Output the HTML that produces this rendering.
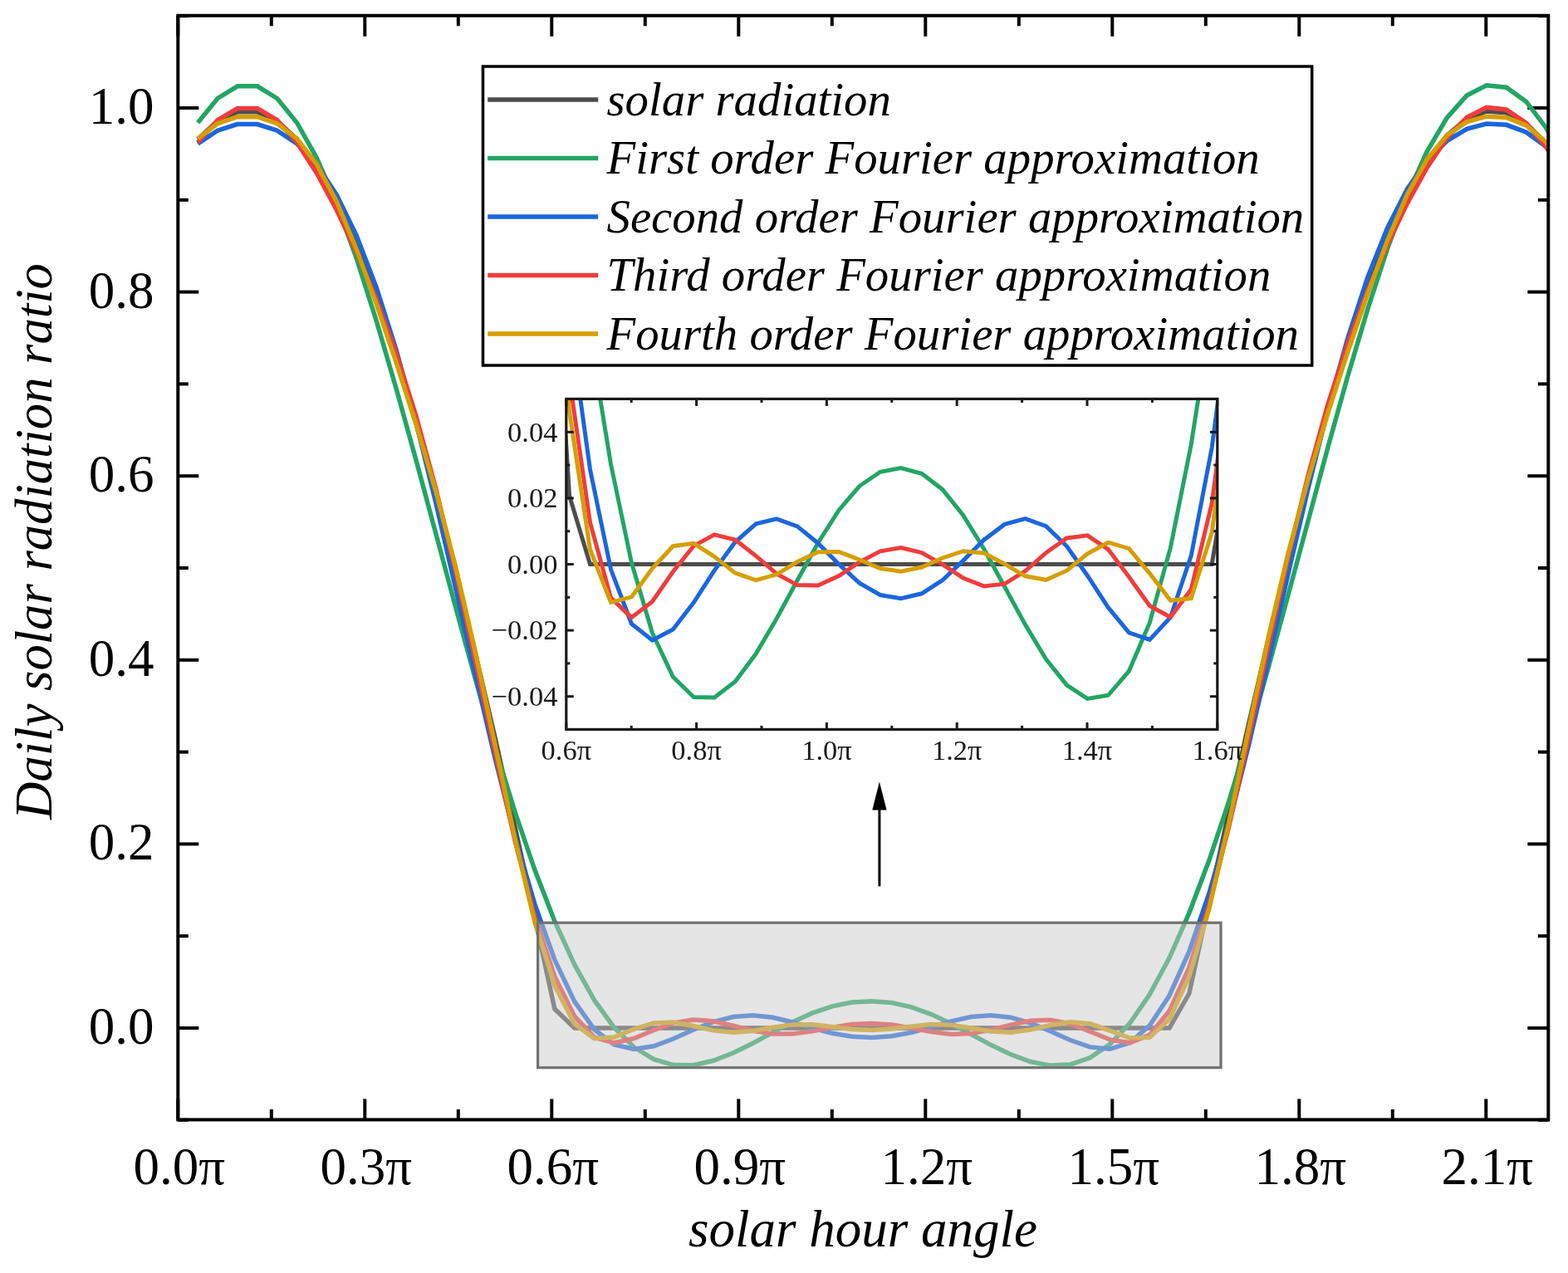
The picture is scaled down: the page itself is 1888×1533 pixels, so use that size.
<!DOCTYPE html>
<html><head><meta charset="utf-8"><title>Daily solar radiation ratio</title>
<style>html,body{margin:0;padding:0;background:#fff;} svg{display:block;}</style>
</head><body>
<svg width="1888" height="1533" viewBox="0 0 1888 1533">
<defs>
<clipPath id="cm"><rect x="214.3" y="18.8" width="1650.0" height="1329.6000000000001"/></clipPath>
<clipPath id="ci"><rect x="681.8" y="480.4" width="784.0" height="398.0"/></clipPath>
</defs>
<rect x="0" y="0" width="1888" height="1533" fill="#fff"/>
<line x1="214.3" y1="1348.4" x2="214.3" y2="1323.4" stroke="#000" stroke-width="4"/>
<line x1="214.3" y1="18.8" x2="214.3" y2="43.8" stroke="#000" stroke-width="4"/>
<line x1="326.8" y1="1348.4" x2="326.8" y2="1335.9" stroke="#000" stroke-width="4"/>
<line x1="326.8" y1="18.8" x2="326.8" y2="31.3" stroke="#000" stroke-width="4"/>
<line x1="439.3" y1="1348.4" x2="439.3" y2="1323.4" stroke="#000" stroke-width="4"/>
<line x1="439.3" y1="18.8" x2="439.3" y2="43.8" stroke="#000" stroke-width="4"/>
<line x1="551.8" y1="1348.4" x2="551.8" y2="1335.9" stroke="#000" stroke-width="4"/>
<line x1="551.8" y1="18.8" x2="551.8" y2="31.3" stroke="#000" stroke-width="4"/>
<line x1="664.3" y1="1348.4" x2="664.3" y2="1323.4" stroke="#000" stroke-width="4"/>
<line x1="664.3" y1="18.8" x2="664.3" y2="43.8" stroke="#000" stroke-width="4"/>
<line x1="776.8" y1="1348.4" x2="776.8" y2="1335.9" stroke="#000" stroke-width="4"/>
<line x1="776.8" y1="18.8" x2="776.8" y2="31.3" stroke="#000" stroke-width="4"/>
<line x1="889.3" y1="1348.4" x2="889.3" y2="1323.4" stroke="#000" stroke-width="4"/>
<line x1="889.3" y1="18.8" x2="889.3" y2="43.8" stroke="#000" stroke-width="4"/>
<line x1="1001.8" y1="1348.4" x2="1001.8" y2="1335.9" stroke="#000" stroke-width="4"/>
<line x1="1001.8" y1="18.8" x2="1001.8" y2="31.3" stroke="#000" stroke-width="4"/>
<line x1="1114.3" y1="1348.4" x2="1114.3" y2="1323.4" stroke="#000" stroke-width="4"/>
<line x1="1114.3" y1="18.8" x2="1114.3" y2="43.8" stroke="#000" stroke-width="4"/>
<line x1="1226.8" y1="1348.4" x2="1226.8" y2="1335.9" stroke="#000" stroke-width="4"/>
<line x1="1226.8" y1="18.8" x2="1226.8" y2="31.3" stroke="#000" stroke-width="4"/>
<line x1="1339.3" y1="1348.4" x2="1339.3" y2="1323.4" stroke="#000" stroke-width="4"/>
<line x1="1339.3" y1="18.8" x2="1339.3" y2="43.8" stroke="#000" stroke-width="4"/>
<line x1="1451.8" y1="1348.4" x2="1451.8" y2="1335.9" stroke="#000" stroke-width="4"/>
<line x1="1451.8" y1="18.8" x2="1451.8" y2="31.3" stroke="#000" stroke-width="4"/>
<line x1="1564.3" y1="1348.4" x2="1564.3" y2="1323.4" stroke="#000" stroke-width="4"/>
<line x1="1564.3" y1="18.8" x2="1564.3" y2="43.8" stroke="#000" stroke-width="4"/>
<line x1="1676.8" y1="1348.4" x2="1676.8" y2="1335.9" stroke="#000" stroke-width="4"/>
<line x1="1676.8" y1="18.8" x2="1676.8" y2="31.3" stroke="#000" stroke-width="4"/>
<line x1="1789.3" y1="1348.4" x2="1789.3" y2="1323.4" stroke="#000" stroke-width="4"/>
<line x1="1789.3" y1="18.8" x2="1789.3" y2="43.8" stroke="#000" stroke-width="4"/>
<line x1="214.3" y1="1348.8" x2="226.8" y2="1348.8" stroke="#000" stroke-width="4"/>
<line x1="1864.3" y1="1348.8" x2="1851.8" y2="1348.8" stroke="#000" stroke-width="4"/>
<line x1="214.3" y1="1238.0" x2="239.3" y2="1238.0" stroke="#000" stroke-width="4"/>
<line x1="1864.3" y1="1238.0" x2="1839.3" y2="1238.0" stroke="#000" stroke-width="4"/>
<line x1="214.3" y1="1127.2" x2="226.8" y2="1127.2" stroke="#000" stroke-width="4"/>
<line x1="1864.3" y1="1127.2" x2="1851.8" y2="1127.2" stroke="#000" stroke-width="4"/>
<line x1="214.3" y1="1016.4" x2="239.3" y2="1016.4" stroke="#000" stroke-width="4"/>
<line x1="1864.3" y1="1016.4" x2="1839.3" y2="1016.4" stroke="#000" stroke-width="4"/>
<line x1="214.3" y1="905.6" x2="226.8" y2="905.6" stroke="#000" stroke-width="4"/>
<line x1="1864.3" y1="905.6" x2="1851.8" y2="905.6" stroke="#000" stroke-width="4"/>
<line x1="214.3" y1="794.8" x2="239.3" y2="794.8" stroke="#000" stroke-width="4"/>
<line x1="1864.3" y1="794.8" x2="1839.3" y2="794.8" stroke="#000" stroke-width="4"/>
<line x1="214.3" y1="684.0" x2="226.8" y2="684.0" stroke="#000" stroke-width="4"/>
<line x1="1864.3" y1="684.0" x2="1851.8" y2="684.0" stroke="#000" stroke-width="4"/>
<line x1="214.3" y1="573.2" x2="239.3" y2="573.2" stroke="#000" stroke-width="4"/>
<line x1="1864.3" y1="573.2" x2="1839.3" y2="573.2" stroke="#000" stroke-width="4"/>
<line x1="214.3" y1="462.4" x2="226.8" y2="462.4" stroke="#000" stroke-width="4"/>
<line x1="1864.3" y1="462.4" x2="1851.8" y2="462.4" stroke="#000" stroke-width="4"/>
<line x1="214.3" y1="351.6" x2="239.3" y2="351.6" stroke="#000" stroke-width="4"/>
<line x1="1864.3" y1="351.6" x2="1839.3" y2="351.6" stroke="#000" stroke-width="4"/>
<line x1="214.3" y1="240.8" x2="226.8" y2="240.8" stroke="#000" stroke-width="4"/>
<line x1="1864.3" y1="240.8" x2="1851.8" y2="240.8" stroke="#000" stroke-width="4"/>
<line x1="214.3" y1="130.0" x2="239.3" y2="130.0" stroke="#000" stroke-width="4"/>
<line x1="1864.3" y1="130.0" x2="1839.3" y2="130.0" stroke="#000" stroke-width="4"/>
<line x1="214.3" y1="19.2" x2="226.8" y2="19.2" stroke="#000" stroke-width="4"/>
<line x1="1864.3" y1="19.2" x2="1851.8" y2="19.2" stroke="#000" stroke-width="4"/>
<g clip-path="url(#cm)">
<polyline points="238.2,167.7 262.0,145.7 285.9,134.7 309.8,134.7 333.7,145.7 357.5,167.7 381.4,200.3 405.3,243.3 429.2,296.2 453.0,358.6 476.9,429.7 500.8,508.9 524.7,595.4 548.5,688.3 572.4,786.8 596.3,889.7 620.1,996.1 644.0,1104.9 667.9,1215.0 691.8,1238.0 715.6,1238.0 739.5,1238.0 763.4,1238.0 787.3,1238.0 811.1,1238.0 835.0,1238.0 858.9,1238.0 882.8,1238.0 906.6,1238.0 930.5,1238.0 954.4,1238.0 978.2,1238.0 1002.1,1238.0 1026.0,1238.0 1049.9,1238.0 1073.7,1238.0 1097.6,1238.0 1121.5,1238.0 1145.4,1238.0 1169.2,1238.0 1193.1,1238.0 1217.0,1238.0 1240.8,1238.0 1264.7,1238.0 1288.6,1238.0 1312.5,1238.0 1336.3,1238.0 1360.2,1238.0 1384.1,1238.0 1408.0,1238.0 1431.8,1196.5 1455.7,1086.5 1479.6,978.0 1503.5,872.1 1527.3,769.9 1551.2,672.3 1575.1,580.4 1598.9,495.1 1622.8,417.2 1646.7,347.5 1670.6,286.7 1694.4,235.4 1718.3,194.1 1742.2,163.2 1766.1,143.1 1789.9,133.9 1813.8,135.8 1837.7,148.7 1861.6,172.4 1885.4,206.8" fill="none" stroke="#4d4d4d" stroke-width="5.5" stroke-linejoin="miter" stroke-miterlimit="3" stroke-linecap="butt"/>
<polyline points="238.2,147.7 262.0,118.5 285.9,103.8 309.8,103.8 333.7,118.5 357.5,147.7 381.4,190.3 405.3,245.3 429.2,311.0 453.0,385.7 476.9,467.2 500.8,553.4 524.7,642.1 548.5,730.9 572.4,817.8 596.3,900.7 620.1,977.9 644.0,1047.8 667.9,1109.4 691.8,1161.7 715.6,1204.4 739.5,1237.4 763.4,1261.0 787.3,1275.7 811.1,1282.6 835.0,1282.7 858.9,1277.3 882.8,1268.0 906.6,1256.2 930.5,1243.3 954.4,1230.8 978.2,1219.9 1002.1,1211.8 1026.0,1207.0 1049.9,1205.7 1073.7,1207.6 1097.6,1212.9 1121.5,1221.6 1145.4,1232.8 1169.2,1245.5 1193.1,1258.3 1217.0,1269.8 1240.8,1278.5 1264.7,1283.1 1288.6,1281.9 1312.5,1273.8 1336.3,1257.6 1360.2,1232.5 1384.1,1197.9 1408.0,1153.6 1431.8,1099.6 1455.7,1036.6 1479.6,965.4 1503.5,887.1 1527.3,803.4 1551.2,716.1 1575.1,627.1 1598.9,538.7 1622.8,453.1 1646.7,372.6 1670.6,299.3 1694.4,235.3 1718.3,182.3 1742.2,141.8 1766.1,115.0 1789.9,102.7 1813.8,105.2 1837.7,122.4 1861.6,153.9 1885.4,198.8" fill="none" stroke="#22a565" stroke-width="5.5" stroke-linejoin="miter" stroke-miterlimit="3" stroke-linecap="butt"/>
<polyline points="238.2,173.0 262.0,157.2 285.9,149.6 309.8,149.6 333.7,157.2 357.5,173.0 381.4,198.3 405.3,234.7 429.2,283.5 453.0,345.6 476.9,420.9 500.8,508.2 524.7,605.1 548.5,708.0 572.4,812.5 596.3,914.0 620.1,1007.6 644.0,1089.2 667.9,1156.0 691.8,1206.2 715.6,1239.7 739.5,1257.9 763.4,1263.5 787.3,1259.8 811.1,1250.8 835.0,1240.0 858.9,1230.6 882.8,1224.5 906.6,1222.8 930.5,1225.3 954.4,1231.0 978.2,1238.0 1002.1,1244.3 1026.0,1248.3 1049.9,1249.5 1073.7,1247.8 1097.6,1243.3 1121.5,1236.8 1145.4,1229.9 1169.2,1224.6 1193.1,1222.8 1217.0,1225.2 1240.8,1232.0 1264.7,1241.8 1288.6,1252.5 1312.5,1260.9 1336.3,1263.3 1360.2,1255.8 1384.1,1235.2 1408.0,1198.9 1431.8,1145.9 1455.7,1076.5 1479.6,992.6 1503.5,897.3 1527.3,795.0 1551.2,690.4 1575.1,588.2 1598.9,492.7 1622.8,407.3 1646.7,334.2 1670.6,274.4 1694.4,227.7 1718.3,193.3 1742.2,169.7 1766.1,155.3 1789.9,149.1 1813.8,150.3 1837.7,159.2 1861.6,176.5 1885.4,203.6" fill="none" stroke="#1a66dc" stroke-width="5.5" stroke-linejoin="miter" stroke-miterlimit="3" stroke-linecap="butt"/>
<polyline points="238.2,171.5 262.0,144.7 285.9,130.5 309.8,130.5 333.7,144.7 357.5,171.5 381.4,208.4 405.3,252.8 429.2,303.3 453.0,360.1 476.9,425.1 500.8,500.6 524.7,588.3 548.5,687.9 572.4,796.2 596.3,907.0 620.1,1012.4 644.0,1104.3 667.9,1175.9 691.8,1224.0 715.6,1249.2 739.5,1255.8 763.4,1250.5 787.3,1240.5 811.1,1231.9 835.0,1228.1 858.9,1229.8 882.8,1235.2 906.6,1241.2 930.5,1245.0 954.4,1245.1 978.2,1241.9 1002.1,1237.3 1026.0,1233.6 1049.9,1232.4 1073.7,1234.1 1097.6,1238.0 1121.5,1242.6 1145.4,1245.4 1169.2,1244.6 1193.1,1240.3 1217.0,1234.1 1240.8,1229.2 1264.7,1228.3 1288.6,1233.0 1312.5,1242.2 1336.3,1251.9 1360.2,1255.8 1384.1,1246.4 1408.0,1217.6 1431.8,1165.4 1455.7,1090.1 1479.6,995.5 1503.5,888.5 1527.3,777.6 1551.2,670.4 1575.1,572.7 1598.9,487.1 1622.8,413.5 1646.7,350.1 1670.6,294.4 1694.4,244.9 1718.3,201.6 1742.2,166.2 1766.1,141.4 1789.9,129.4 1813.8,131.9 1837.7,148.4 1861.6,177.1 1885.4,215.4" fill="none" stroke="#f03c3c" stroke-width="5.5" stroke-linejoin="miter" stroke-miterlimit="3" stroke-linecap="butt"/>
<polyline points="238.2,166.9 262.0,148.7 285.9,140.7 309.8,140.7 333.7,148.7 357.5,166.9 381.4,197.9 405.3,242.8 429.2,299.9 453.0,365.4 476.9,435.8 500.8,510.3 524.7,591.1 548.5,682.1 572.4,785.3 596.3,897.7 620.1,1010.3 644.0,1110.6 667.9,1186.9 691.8,1233.0 715.6,1250.7 739.5,1249.0 763.4,1239.4 787.3,1231.9 811.1,1231.0 835.0,1235.5 858.9,1240.9 882.8,1243.3 906.6,1241.4 930.5,1237.2 954.4,1233.9 978.2,1233.8 1002.1,1236.5 1026.0,1239.4 1049.9,1240.5 1073.7,1239.0 1097.6,1235.9 1121.5,1233.6 1145.4,1234.3 1169.2,1237.9 1193.1,1242.0 1217.0,1243.2 1240.8,1240.1 1264.7,1234.5 1288.6,1230.7 1312.5,1232.8 1336.3,1241.1 1360.2,1250.1 1384.1,1249.4 1408.0,1227.4 1431.8,1176.1 1455.7,1095.1 1479.6,991.8 1503.5,878.4 1527.3,767.2 1551.2,666.0 1575.1,576.9 1598.9,497.4 1622.8,423.7 1646.7,353.9 1670.6,289.6 1694.4,234.3 1718.3,191.7 1742.2,163.0 1766.1,146.7 1789.9,140.2 1813.8,141.5 1837.7,151.0 1861.6,171.2 1885.4,204.5" fill="none" stroke="#d69e00" stroke-width="5.5" stroke-linejoin="miter" stroke-miterlimit="3" stroke-linecap="butt"/>
</g>
<rect x="647.6" y="1111.2" width="822.4" height="174.5" fill="rgb(202,202,202)" fill-opacity="0.49" stroke="#717171" stroke-width="3.2"/>
<rect x="214.3" y="18.8" width="1650.0" height="1329.6000000000001" fill="none" stroke="#000" stroke-width="4"/>
<g font-family="Liberation Serif, serif" font-size="63" fill="#000">
<text x="215.8" y="1425.5" text-anchor="middle">0.0π</text>
<text x="440.8" y="1425.5" text-anchor="middle">0.3π</text>
<text x="665.8" y="1425.5" text-anchor="middle">0.6π</text>
<text x="890.8" y="1425.5" text-anchor="middle">0.9π</text>
<text x="1115.8" y="1425.5" text-anchor="middle">1.2π</text>
<text x="1340.8" y="1425.5" text-anchor="middle">1.5π</text>
<text x="1565.8" y="1425.5" text-anchor="middle">1.8π</text>
<text x="1790.8" y="1425.5" text-anchor="middle">2.1π</text>
<text x="185.5" y="1257.0" text-anchor="end">0.0</text>
<text x="185.5" y="1035.4" text-anchor="end">0.2</text>
<text x="185.5" y="813.8" text-anchor="end">0.4</text>
<text x="185.5" y="592.2" text-anchor="end">0.6</text>
<text x="185.5" y="370.6" text-anchor="end">0.8</text>
<text x="185.5" y="149.0" text-anchor="end">1.0</text>
</g>
<text x="1039" y="1501.4" text-anchor="middle" font-family="Liberation Serif, serif" font-style="italic" font-size="63">solar hour angle</text>
<text transform="translate(61.6,651.9) rotate(-90)" x="0" y="0" text-anchor="middle" font-family="Liberation Serif, serif" font-style="italic" font-size="62.6">Daily solar radiation ratio</text>
<rect x="581.5" y="80" width="998.2" height="360" fill="#fff" stroke="#000" stroke-width="3.5"/>
<line x1="587.2" y1="119.9" x2="720.2" y2="119.9" stroke="#4d4d4d" stroke-width="5.5"/>
<text x="730.5" y="138.7" font-family="Liberation Serif, serif" font-style="italic" font-size="56.8">solar radiation</text>
<line x1="587.2" y1="190.4" x2="720.2" y2="190.4" stroke="#22a565" stroke-width="5.5"/>
<text x="730.5" y="209.2" font-family="Liberation Serif, serif" font-style="italic" font-size="56.8">First order Fourier approximation</text>
<line x1="587.2" y1="260.9" x2="720.2" y2="260.9" stroke="#1a66dc" stroke-width="5.5"/>
<text x="730.5" y="279.7" font-family="Liberation Serif, serif" font-style="italic" font-size="56.8">Second order Fourier approximation</text>
<line x1="587.2" y1="331.4" x2="720.2" y2="331.4" stroke="#f03c3c" stroke-width="5.5"/>
<text x="730.5" y="350.2" font-family="Liberation Serif, serif" font-style="italic" font-size="56.8">Third order Fourier approximation</text>
<line x1="587.2" y1="401.9" x2="720.2" y2="401.9" stroke="#d69e00" stroke-width="5.5"/>
<text x="730.5" y="420.7" font-family="Liberation Serif, serif" font-style="italic" font-size="56.8">Fourth order Fourier approximation</text>
<rect x="681.8" y="480.4" width="784.0" height="398.0" fill="#fff"/>
<g clip-path="url(#ci)">
<polyline points="236.4,-3165.2 261.3,-3244.0 286.3,-3283.6 311.2,-3283.6 336.2,-3244.0 361.1,-3165.2 386.1,-3048.0 411.0,-2893.5 436.0,-2703.4 461.0,-2479.4 485.9,-2223.9 510.9,-1939.4 535.8,-1628.7 560.8,-1294.9 585.7,-941.4 610.7,-571.7 635.6,-189.5 660.6,201.3 685.6,597.0 710.5,679.5 735.5,679.5 760.4,679.5 785.4,679.5 810.3,679.5 835.3,679.5 860.2,679.5 885.2,679.5 910.2,679.5 935.1,679.5 960.1,679.5 985.0,679.5 1010.0,679.5 1034.9,679.5 1059.9,679.5 1084.8,679.5 1109.8,679.5 1134.8,679.5 1159.7,679.5 1184.7,679.5 1209.6,679.5 1234.6,679.5 1259.5,679.5 1284.5,679.5 1309.4,679.5 1334.4,679.5 1359.4,679.5 1384.3,679.5 1409.3,679.5 1434.2,679.5 1459.2,679.5 1484.1,530.3 1509.1,135.2 1534.0,-254.5 1559.0,-634.9 1584.0,-1002.1 1608.9,-1352.5 1633.9,-1682.6 1658.8,-1989.1 1683.8,-2269.0 1708.7,-2519.3 1733.7,-2737.8 1758.6,-2922.0 1783.6,-3070.3 1808.6,-3181.2 1833.5,-3253.4 1858.5,-3286.4 1883.4,-3279.7 1908.4,-3233.5 1933.3,-3148.2 1958.3,-3024.6" fill="none" stroke="#4d4d4d" stroke-width="5.0" stroke-linejoin="miter" stroke-miterlimit="3" stroke-linecap="butt"/>
<polyline points="236.4,-3237.0 261.3,-3341.7 286.3,-3394.8 311.2,-3394.8 336.2,-3341.7 361.1,-3237.0 386.1,-3083.8 411.0,-2886.3 436.0,-2650.3 461.0,-2382.1 485.9,-2089.3 510.9,-1779.6 535.8,-1461.1 560.8,-1142.0 585.7,-830.0 610.7,-532.1 635.6,-254.9 660.6,-3.7 685.6,217.4 710.5,405.5 735.5,558.9 760.4,677.4 785.4,762.0 810.3,815.0 835.3,839.6 860.2,839.9 885.2,820.8 910.2,787.3 935.1,744.9 960.1,698.7 985.0,653.7 1010.0,614.5 1034.9,585.3 1059.9,568.3 1084.8,563.5 1109.8,570.3 1134.8,589.4 1159.7,620.5 1184.7,661.0 1209.6,706.5 1234.6,752.4 1259.5,793.7 1284.5,825.1 1309.4,841.4 1334.4,837.3 1359.4,808.1 1384.3,750.0 1409.3,659.8 1434.2,535.5 1459.2,376.2 1484.1,182.5 1509.1,-43.9 1534.0,-299.9 1559.0,-580.9 1584.0,-881.6 1608.9,-1195.4 1633.9,-1514.9 1658.8,-1832.5 1683.8,-2139.9 1708.7,-2429.1 1733.7,-2692.4 1758.6,-2922.4 1783.6,-3112.8 1808.6,-3258.1 1833.5,-3354.3 1858.5,-3398.5 1883.4,-3389.5 1908.4,-3327.6 1933.3,-3214.5 1958.3,-3053.5" fill="none" stroke="#22a565" stroke-width="5.0" stroke-linejoin="miter" stroke-miterlimit="3" stroke-linecap="butt"/>
<polyline points="236.4,-3146.2 261.3,-3203.0 286.3,-3230.1 311.2,-3230.1 336.2,-3203.0 361.1,-3146.2 386.1,-3055.2 411.0,-2924.5 436.0,-2749.2 461.0,-2526.1 485.9,-2255.7 510.9,-1942.1 535.8,-1594.1 560.8,-1224.4 585.7,-848.8 610.7,-484.5 635.6,-148.3 660.6,145.1 685.6,384.9 710.5,565.2 735.5,685.6 760.4,751.1 785.4,771.0 810.3,758.0 835.3,725.5 860.2,686.8 885.2,652.8 910.2,630.9 935.1,624.8 960.1,633.9 985.0,654.2 1010.0,679.4 1034.9,702.1 1059.9,716.5 1084.8,720.7 1109.8,714.8 1134.8,698.7 1159.7,675.1 1184.7,650.2 1209.6,631.4 1234.6,624.7 1259.5,633.6 1284.5,657.8 1309.4,693.2 1334.4,731.7 1359.4,761.9 1384.3,770.4 1409.3,743.5 1434.2,669.4 1459.2,539.1 1484.1,348.7 1509.1,99.3 1534.0,-202.2 1559.0,-544.2 1584.0,-911.6 1608.9,-1287.4 1633.9,-1654.5 1658.8,-1997.5 1683.8,-2304.3 1708.7,-2567.0 1733.7,-2781.9 1758.6,-2949.5 1783.6,-3073.1 1808.6,-3158.0 1833.5,-3209.5 1858.5,-3231.9 1883.4,-3227.4 1908.4,-3195.6 1933.3,-3133.4 1958.3,-3036.2" fill="none" stroke="#1a66dc" stroke-width="5.0" stroke-linejoin="miter" stroke-miterlimit="3" stroke-linecap="butt"/>
<polyline points="236.4,-3151.3 261.3,-3247.7 286.3,-3298.9 311.2,-3298.9 336.2,-3247.7 361.1,-3151.3 386.1,-3018.9 411.0,-2859.4 436.0,-2678.0 461.0,-2473.8 485.9,-2240.5 510.9,-1969.3 535.8,-1654.2 560.8,-1296.4 585.7,-907.6 610.7,-509.4 635.6,-130.7 660.6,199.1 685.6,456.4 710.5,629.2 735.5,719.8 760.4,743.6 785.4,724.4 810.3,688.5 835.3,657.4 860.2,643.9 885.2,650.1 910.2,669.4 935.1,690.9 960.1,704.6 985.0,705.0 1010.0,693.5 1034.9,676.9 1059.9,663.8 1084.8,659.5 1109.8,665.5 1134.8,679.7 1159.7,696.0 1184.7,705.9 1209.6,703.2 1234.6,687.6 1259.5,665.7 1284.5,647.9 1309.4,644.8 1334.4,661.6 1359.4,694.7 1384.3,729.5 1409.3,743.3 1434.2,709.8 1459.2,606.1 1484.1,418.9 1509.1,148.2 1534.0,-191.7 1559.0,-575.9 1584.0,-974.3 1608.9,-1359.2 1633.9,-1710.3 1658.8,-2017.9 1683.8,-2282.1 1708.7,-2510.0 1733.7,-2710.0 1758.6,-2887.8 1783.6,-3043.2 1808.6,-3170.3 1833.5,-3259.7 1858.5,-3302.5 1883.4,-3293.8 1908.4,-3234.5 1933.3,-3131.3 1958.3,-2993.7" fill="none" stroke="#f03c3c" stroke-width="5.0" stroke-linejoin="miter" stroke-miterlimit="3" stroke-linecap="butt"/>
<polyline points="236.4,-3168.0 261.3,-3233.2 286.3,-3262.0 311.2,-3262.0 336.2,-3233.2 361.1,-3168.0 386.1,-3056.6 411.0,-2895.3 436.0,-2690.3 461.0,-2455.1 485.9,-2202.0 510.9,-1934.5 535.8,-1644.1 560.8,-1317.2 585.7,-946.6 610.7,-543.0 635.6,-138.5 660.6,221.8 685.6,495.8 710.5,661.5 735.5,725.3 760.4,718.9 785.4,684.6 810.3,657.7 835.3,654.3 860.2,670.4 885.2,690.1 910.2,698.6 935.1,691.8 960.1,676.5 985.0,664.8 1010.0,664.5 1034.9,674.0 1059.9,684.5 1084.8,688.3 1109.8,683.0 1134.8,672.0 1159.7,663.7 1184.7,666.0 1209.6,679.1 1234.6,693.8 1259.5,698.3 1284.5,687.2 1309.4,666.9 1334.4,653.2 1359.4,660.7 1384.3,690.6 1409.3,723.1 1434.2,720.6 1459.2,641.3 1484.1,457.1 1509.1,166.3 1534.0,-204.7 1559.0,-612.0 1584.0,-1011.8 1608.9,-1375.2 1633.9,-1695.1 1658.8,-1980.7 1683.8,-2245.5 1708.7,-2496.2 1733.7,-2727.3 1758.6,-2925.8 1783.6,-3078.8 1808.6,-3181.9 1833.5,-3240.4 1858.5,-3263.9 1883.4,-3259.3 1908.4,-3225.1 1933.3,-3152.7 1958.3,-3032.9" fill="none" stroke="#d69e00" stroke-width="5.0" stroke-linejoin="miter" stroke-miterlimit="3" stroke-linecap="butt"/>
</g>
<rect x="681.8" y="480.4" width="784.0" height="398.0" fill="none" stroke="#1a1a1a" stroke-width="3.2"/>
<line x1="681.8" y1="878.4" x2="681.8" y2="869.9" stroke="#1a1a1a" stroke-width="3"/>
<line x1="681.8" y1="480.4" x2="681.8" y2="488.9" stroke="#1a1a1a" stroke-width="3"/>
<line x1="760.2" y1="878.4" x2="760.2" y2="873.9" stroke="#1a1a1a" stroke-width="3"/>
<line x1="760.2" y1="480.4" x2="760.2" y2="484.9" stroke="#1a1a1a" stroke-width="3"/>
<line x1="838.6" y1="878.4" x2="838.6" y2="869.9" stroke="#1a1a1a" stroke-width="3"/>
<line x1="838.6" y1="480.4" x2="838.6" y2="488.9" stroke="#1a1a1a" stroke-width="3"/>
<line x1="917.0" y1="878.4" x2="917.0" y2="873.9" stroke="#1a1a1a" stroke-width="3"/>
<line x1="917.0" y1="480.4" x2="917.0" y2="484.9" stroke="#1a1a1a" stroke-width="3"/>
<line x1="995.4" y1="878.4" x2="995.4" y2="869.9" stroke="#1a1a1a" stroke-width="3"/>
<line x1="995.4" y1="480.4" x2="995.4" y2="488.9" stroke="#1a1a1a" stroke-width="3"/>
<line x1="1073.8" y1="878.4" x2="1073.8" y2="873.9" stroke="#1a1a1a" stroke-width="3"/>
<line x1="1073.8" y1="480.4" x2="1073.8" y2="484.9" stroke="#1a1a1a" stroke-width="3"/>
<line x1="1152.2" y1="878.4" x2="1152.2" y2="869.9" stroke="#1a1a1a" stroke-width="3"/>
<line x1="1152.2" y1="480.4" x2="1152.2" y2="488.9" stroke="#1a1a1a" stroke-width="3"/>
<line x1="1230.6" y1="878.4" x2="1230.6" y2="873.9" stroke="#1a1a1a" stroke-width="3"/>
<line x1="1230.6" y1="480.4" x2="1230.6" y2="484.9" stroke="#1a1a1a" stroke-width="3"/>
<line x1="1309.0" y1="878.4" x2="1309.0" y2="869.9" stroke="#1a1a1a" stroke-width="3"/>
<line x1="1309.0" y1="480.4" x2="1309.0" y2="488.9" stroke="#1a1a1a" stroke-width="3"/>
<line x1="1387.4" y1="878.4" x2="1387.4" y2="873.9" stroke="#1a1a1a" stroke-width="3"/>
<line x1="1387.4" y1="480.4" x2="1387.4" y2="484.9" stroke="#1a1a1a" stroke-width="3"/>
<line x1="1465.8" y1="878.4" x2="1465.8" y2="869.9" stroke="#1a1a1a" stroke-width="3"/>
<line x1="1465.8" y1="480.4" x2="1465.8" y2="488.9" stroke="#1a1a1a" stroke-width="3"/>
<line x1="681.8" y1="878.5" x2="686.3" y2="878.5" stroke="#1a1a1a" stroke-width="3"/>
<line x1="1465.8" y1="878.5" x2="1461.3" y2="878.5" stroke="#1a1a1a" stroke-width="3"/>
<line x1="681.8" y1="838.7" x2="690.8" y2="838.7" stroke="#1a1a1a" stroke-width="3"/>
<line x1="1465.8" y1="838.7" x2="1456.8" y2="838.7" stroke="#1a1a1a" stroke-width="3"/>
<line x1="681.8" y1="798.9" x2="686.3" y2="798.9" stroke="#1a1a1a" stroke-width="3"/>
<line x1="1465.8" y1="798.9" x2="1461.3" y2="798.9" stroke="#1a1a1a" stroke-width="3"/>
<line x1="681.8" y1="759.1" x2="690.8" y2="759.1" stroke="#1a1a1a" stroke-width="3"/>
<line x1="1465.8" y1="759.1" x2="1456.8" y2="759.1" stroke="#1a1a1a" stroke-width="3"/>
<line x1="681.8" y1="719.3" x2="686.3" y2="719.3" stroke="#1a1a1a" stroke-width="3"/>
<line x1="1465.8" y1="719.3" x2="1461.3" y2="719.3" stroke="#1a1a1a" stroke-width="3"/>
<line x1="681.8" y1="679.5" x2="690.8" y2="679.5" stroke="#1a1a1a" stroke-width="3"/>
<line x1="1465.8" y1="679.5" x2="1456.8" y2="679.5" stroke="#1a1a1a" stroke-width="3"/>
<line x1="681.8" y1="639.7" x2="686.3" y2="639.7" stroke="#1a1a1a" stroke-width="3"/>
<line x1="1465.8" y1="639.7" x2="1461.3" y2="639.7" stroke="#1a1a1a" stroke-width="3"/>
<line x1="681.8" y1="599.9" x2="690.8" y2="599.9" stroke="#1a1a1a" stroke-width="3"/>
<line x1="1465.8" y1="599.9" x2="1456.8" y2="599.9" stroke="#1a1a1a" stroke-width="3"/>
<line x1="681.8" y1="560.1" x2="686.3" y2="560.1" stroke="#1a1a1a" stroke-width="3"/>
<line x1="1465.8" y1="560.1" x2="1461.3" y2="560.1" stroke="#1a1a1a" stroke-width="3"/>
<line x1="681.8" y1="520.3" x2="690.8" y2="520.3" stroke="#1a1a1a" stroke-width="3"/>
<line x1="1465.8" y1="520.3" x2="1456.8" y2="520.3" stroke="#1a1a1a" stroke-width="3"/>
<line x1="681.8" y1="480.5" x2="686.3" y2="480.5" stroke="#1a1a1a" stroke-width="3"/>
<line x1="1465.8" y1="480.5" x2="1461.3" y2="480.5" stroke="#1a1a1a" stroke-width="3"/>
<g font-family="Liberation Serif, serif" font-size="34.5" fill="#1a1a1a">
<text x="681.8" y="915" text-anchor="middle">0.6π</text>
<text x="838.6" y="915" text-anchor="middle">0.8π</text>
<text x="995.4" y="915" text-anchor="middle">1.0π</text>
<text x="1152.2" y="915" text-anchor="middle">1.2π</text>
<text x="1309.0" y="915" text-anchor="middle">1.4π</text>
<text x="1465.8" y="915" text-anchor="middle">1.6π</text>
<text x="671.4" y="531.5" text-anchor="end">0.04</text>
<text x="671.4" y="611.1" text-anchor="end">0.02</text>
<text x="671.4" y="690.7" text-anchor="end">0.00</text>
<text x="671.4" y="770.3" text-anchor="end">−0.02</text>
<text x="671.4" y="849.9" text-anchor="end">−0.04</text>
</g>
<line x1="1058.9" y1="1067.3" x2="1058.9" y2="970" stroke="#000" stroke-width="3"/>
<polygon points="1058.9,941.4 1050.3,975.4 1067.6,975.4" fill="#000"/>
</svg>
</body></html>
